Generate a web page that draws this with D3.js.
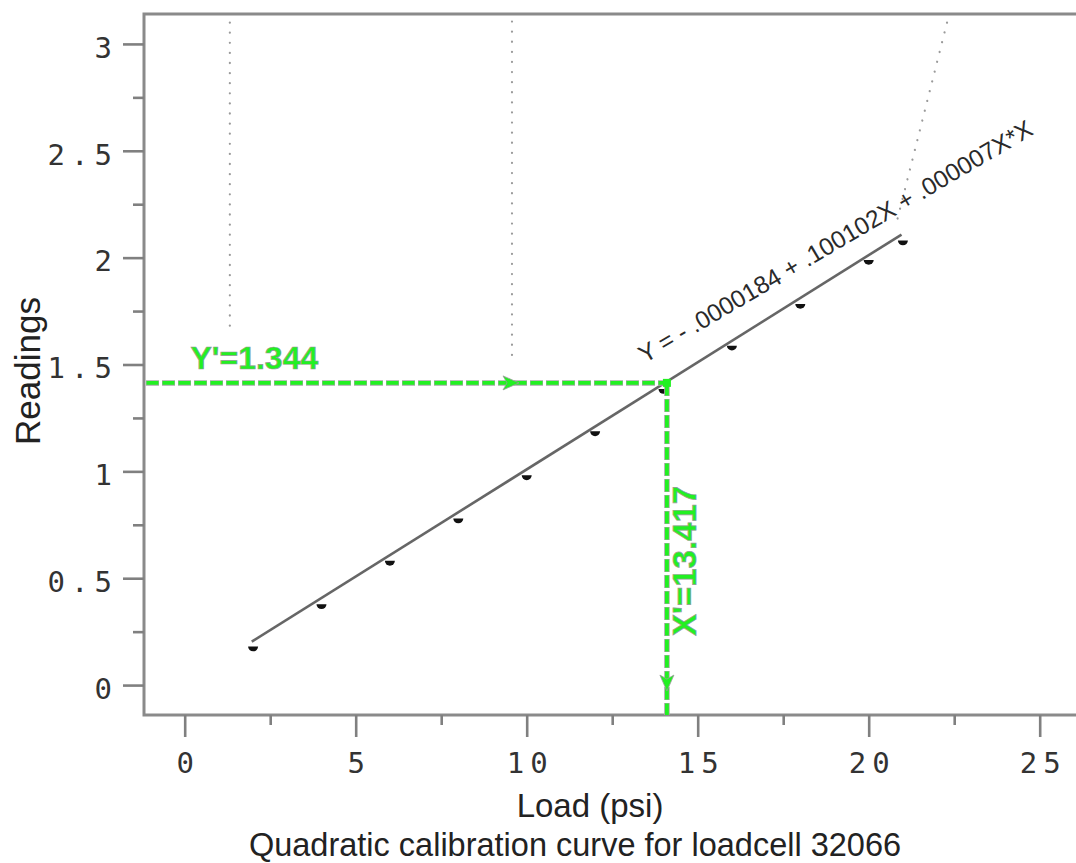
<!DOCTYPE html>
<html>
<head>
<meta charset="utf-8">
<script src="https://cdn.jsdelivr.net/npm/d3@7"></script>
<style>
  html, body { margin: 0; padding: 0; background: #fff; }
  svg { display: block; }
</style>
</head>
<body>
<svg id="chart" width="1076" height="863"></svg>
<script>
// ---------- data ----------
const loads = [2, 4, 6, 8, 10, 12, 14, 16, 18, 20, 21];
const readings = [0.169, 0.367, 0.570, 0.768, 0.970, 1.176, 1.374, 1.577, 1.772, 1.978, 2.069];
const fitLoads = [1.96, 20.96];
const fitReadings = [0.203, 2.108];
const xTicks = [0, 5, 10, 15, 20, 25];
const xMinorTicks = [2.5, 7.5, 12.5, 17.5, 22.5];
const yTicks = [0, 0.5, 1, 1.5, 2, 2.5, 3];
const yMinorTicks = [0.25, 0.75, 1.25, 1.75, 2.25, 2.75];
const xDomain = [-1.19, 27.0];
const yDomain = [-0.14, 3.14];
// readout annotation (drawn position and label texts)
const readoutX = 14.1;
const readoutY = 1.414;
const readoutYLabel = "Y'=1.344";
const readoutXLabel = "X'=13.417";
const equationText = "Y = - .0000184 + .100102X + .000007X*X";
// dotted guide lines [x1, y1, x2, y2] in data units
const guides = [
  [1.32, 3.10, 1.32, 1.649],
  [9.57, 3.105, 9.57, 1.541],
  [22.29, 3.10, 20.80, 2.155]
];
const xTitle = "Load (psi)";
const yTitle = "Readings";
const caption = "Quadratic calibration curve for loadcell 32066";

// ---------- layout ----------
const mLeft = 144, mTop = 14, mBottom = 715;
const x = d3.scaleLinear().domain(xDomain).range([mLeft, mLeft + (xDomain[1] - xDomain[0]) * 34.2]);
const y = d3.scaleLinear().domain(yDomain).range([mBottom, mTop]);

const svg = d3.select("#chart");
const GREEN = "#22f022";
const monoFont = "'DejaVu Sans Mono', 'Liberation Mono', monospace";
const sansFont = "'Liberation Sans', Arial, sans-serif";

// guides
svg.append("g").selectAll("line").data(guides).join("line")
  .attr("x1", d => x(d[0])).attr("y1", d => y(d[1]))
  .attr("x2", d => x(d[2])).attr("y2", d => y(d[3]))
  .attr("stroke", "#9a9a9a").attr("stroke-width", 2.2)
  .attr("stroke-linecap", "round").attr("stroke-dasharray", "0.1,10");

// fit line
const line = d3.line().x(d => x(d[0])).y(d => y(d[1]));
svg.append("path")
  .attr("d", line(fitLoads.map((v, i) => [v, fitReadings[i]])))
  .attr("fill", "none").attr("stroke", "#666").attr("stroke-width", 2.6);

// points (half-disk markers)
svg.append("g").selectAll("path").data(loads.map((v, i) => [v, readings[i]])).join("path")
  .attr("transform", d => `translate(${x(d[0])},${y(d[1])})`)
  .attr("d", "M-5,-2.4 L5,-2.4 A5,4.8 0 0 1 -5,-2.4 Z")
  .attr("fill", "#111");

// frame
svg.append("rect")
  .attr("x", x(xDomain[0])).attr("y", y(yDomain[1]))
  .attr("width", x(xDomain[1]) - x(xDomain[0]))
  .attr("height", y(yDomain[0]) - y(yDomain[1]))
  .attr("fill", "none").attr("stroke", "#8a8a8a").attr("stroke-width", 3);

// axes
const ls = 6;
const yAxis = svg.append("g").attr("transform", `translate(${mLeft},0)`)
  .call(d3.axisLeft(y).tickValues(yTicks).tickSize(21).tickPadding(5).tickFormat(d3.format("")));
const yMinor = svg.append("g").attr("transform", `translate(${mLeft},0)`)
  .call(d3.axisLeft(y).tickValues(yMinorTicks).tickSize(11).tickFormat(""));
const xAxis = svg.append("g").attr("transform", `translate(0,${mBottom})`)
  .call(d3.axisBottom(x).tickValues(xTicks).tickSize(22).tickPadding(15).tickFormat(d3.format("")));
const xMinor = svg.append("g").attr("transform", `translate(0,${mBottom})`)
  .call(d3.axisBottom(x).tickValues(xMinorTicks).tickSize(10).tickFormat(""));
[yAxis, yMinor, xAxis, xMinor].forEach(g => {
  g.select(".domain").remove();
  g.selectAll(".tick line").attr("stroke", "#808080").attr("stroke-width", 2.6);
  g.selectAll(".tick text")
    .attr("font-family", monoFont).attr("font-size", 29)
    .attr("fill", "#333").style("letter-spacing", ls + "px");
});
yAxis.selectAll(".tick text").attr("dy", "0.46em");
xAxis.selectAll(".tick text").attr("dx", ls / 2);

// titles
svg.append("text")
  .attr("transform", `translate(40,371) rotate(-90)`)
  .attr("text-anchor", "middle").attr("font-family", sansFont).attr("font-size", 35)
  .attr("fill", "#222").text(yTitle);
svg.append("text")
  .attr("x", 590).attr("y", 817)
  .attr("text-anchor", "middle").attr("font-family", sansFont).attr("font-size", 33)
  .attr("fill", "#222").text(xTitle);
svg.append("text")
  .attr("x", 575).attr("y", 856)
  .attr("text-anchor", "middle").attr("font-family", sansFont).attr("font-size", 32.5)
  .attr("fill", "#222").text(caption);

// equation
svg.append("text")
  .attr("transform", `translate(${x(13.45)},${y(1.505)}) rotate(-30.5)`)
  .attr("font-family", sansFont).attr("font-size", 24.5)
  .attr("fill", "#2a2a2a").text(equationText);

// readout annotation
const ann = svg.append("g");
const hx0 = x(xDomain[0]) + 2, hx1 = x(readoutX), hy = y(readoutY), vy1 = y(yDomain[0]);
const segs = [[hx0, hy, hx1, hy], [hx1, hy, hx1, vy1]];
ann.selectAll("line.under").data(segs).join("line").attr("class", "under")
  .attr("x1", d => d[0]).attr("y1", d => d[1]).attr("x2", d => d[2]).attr("y2", d => d[3])
  .attr("stroke", "#a8a8a8").attr("stroke-width", 5.5).attr("stroke-dasharray", "13,3");
ann.selectAll("line.over").data(segs).join("line").attr("class", "over")
  .attr("x1", d => d[0]).attr("y1", d => d[1]).attr("x2", d => d[2]).attr("y2", d => d[3])
  .attr("stroke", GREEN).attr("stroke-width", 3.8).attr("stroke-dasharray", "12,4").attr("stroke-dashoffset", -0.5);
// arrowheads
ann.append("path")
  .attr("transform", `translate(${x(9.6)},${hy})`)
  .attr("d", "M-10,-7 L6,0 L-10,7 L-6,0 Z")
  .attr("fill", GREEN).attr("stroke", "#9a9a9a").attr("stroke-width", 0.8);
ann.append("path")
  .attr("transform", `translate(${hx1},${y(-0.0)})`)
  .attr("d", "M-7,-10 L0,6 L7,-10 L0,-6 Z")
  .attr("fill", GREEN).attr("stroke", "#9a9a9a").attr("stroke-width", 0.8);
ann.append("rect")
  .attr("x", hx1 - 4).attr("y", hy - 4).attr("width", 8).attr("height", 8)
  .attr("fill", GREEN);
// labels
ann.append("text")
  .attr("x", x(0.17)).attr("y", y(1.478))
  .attr("font-family", sansFont).attr("font-weight", "bold").attr("font-size", 32)
  .attr("fill", GREEN).attr("stroke", "#999").attr("stroke-width", 0.7)
  .text(readoutYLabel);
ann.append("text")
  .attr("transform", `translate(${x(14.95)},${y(0.23)}) rotate(-90)`)
  .attr("font-family", sansFont).attr("font-weight", "bold").attr("font-size", 33)
  .attr("fill", GREEN).attr("stroke", "#999").attr("stroke-width", 0.7)
  .text(readoutXLabel);
</script>
</body>
</html>
